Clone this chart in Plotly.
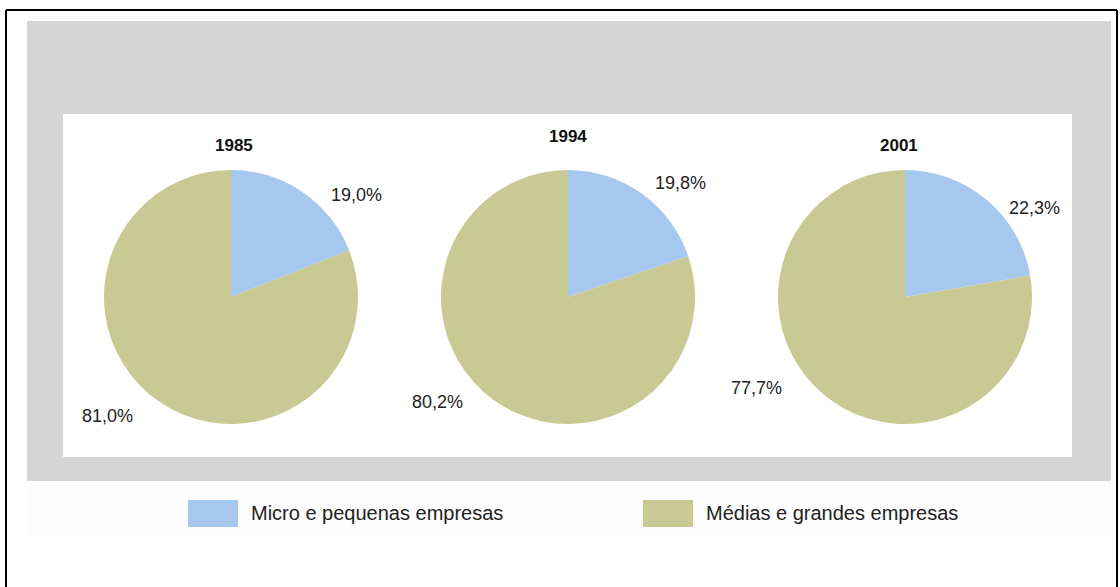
import plotly.graph_objects as go

# Participação no total, por porte de empresa
years = ["1985", "1994", "2001"]
categories = ["Micro e pequenas empresas", "Médias e grandes empresas"]
micro_pequenas = [19.0, 19.8, 22.3]
medias_grandes = [81.0, 80.2, 77.7]

colors = ["#a6c8ee", "#c9c993"]

W, H = 1120, 587
FONT = "Liberation Sans, Arial, sans-serif"


def px(x):
    return x / W


def py(y):
    return 1 - y / H


def fmt(v):
    return f"{v:.1f}".replace(".", ",") + "%"


# pie centres / radius in pixels
centres_x = [231, 568, 905]
centre_y = 297
radius = 127
# title and label placement (pixels)
title_pos = [(234, 146), (568, 137), (899, 146)]
small_pos = [(356, 195), (680, 183), (1034, 208)]
large_pos = [(107, 416), (437, 402), (756, 388)]

fig = go.Figure()
for i, yr in enumerate(years):
    cx = centres_x[i]
    fig.add_trace(go.Pie(
        labels=categories,
        values=[micro_pequenas[i], medias_grandes[i]],
        sort=False,
        direction="clockwise",
        rotation=0,
        textinfo="none",
        hoverinfo="label+percent",
        marker=dict(colors=colors, line=dict(width=0)),
        domain=dict(x=[px(cx - radius), px(cx + radius)],
                    y=[py(centre_y + radius), py(centre_y - radius)]),
        showlegend=False,
    ))

annotations = []
for i, yr in enumerate(years):
    annotations.append(dict(
        text=f"<b>{yr}</b>", x=px(title_pos[i][0]), y=py(title_pos[i][1]),
        xref="paper", yref="paper", showarrow=False,
        font=dict(family=FONT, size=17, color="#111111"),
        xanchor="center", yanchor="middle"))
    annotations.append(dict(
        text=fmt(micro_pequenas[i]), x=px(small_pos[i][0]), y=py(small_pos[i][1]),
        xref="paper", yref="paper", showarrow=False,
        font=dict(family=FONT, size=18, color="#222222"),
        xanchor="center", yanchor="middle"))
    annotations.append(dict(
        text=fmt(medias_grandes[i]), x=px(large_pos[i][0]), y=py(large_pos[i][1]),
        xref="paper", yref="paper", showarrow=False,
        font=dict(family=FONT, size=18, color="#222222"),
        xanchor="center", yanchor="middle"))

shapes = [
    # grey outer panel
    dict(type="rect", xref="paper", yref="paper", layer="below",
         x0=px(27), x1=px(1111), y0=py(481), y1=py(21),
         fillcolor="#d6d6d6", line=dict(width=0)),
    # white plotting panel
    dict(type="rect", xref="paper", yref="paper", layer="below",
         x0=px(63), x1=px(1072), y0=py(457), y1=py(114),
         fillcolor="#ffffff", line=dict(width=0)),
    # legend strip
    dict(type="rect", xref="paper", yref="paper", layer="below",
         x0=px(27), x1=px(1111), y0=py(537), y1=py(482),
         fillcolor="#fdfdfd", line=dict(width=0)),
    # frame lines
    dict(type="line", xref="paper", yref="paper", x0=px(6), x1=px(1117),
         y0=py(10), y1=py(10), line=dict(color="#000000", width=2)),
    dict(type="line", xref="paper", yref="paper", x0=px(6), x1=px(6),
         y0=py(10), y1=0, line=dict(color="#000000", width=2)),
    dict(type="line", xref="paper", yref="paper", x0=px(1117), x1=px(1117),
         y0=py(10), y1=0, line=dict(color="#000000", width=2)),
]

# legend: swatch + label for each category
legend_x = [188, 643]
for j, cat in enumerate(categories):
    x0 = legend_x[j]
    shapes.append(dict(type="rect", xref="paper", yref="paper",
                       x0=px(x0), x1=px(x0 + 50), y0=py(527), y1=py(500),
                       fillcolor=colors[j], line=dict(width=0)))
    annotations.append(dict(
        text=cat, x=px(x0 + 61), y=py(513), xref="paper", yref="paper",
        showarrow=False, xanchor="left", yanchor="middle",
        font=dict(family=FONT, size=20, color="#222222")))

fig.update_layout(
    width=W, height=H,
    margin=dict(l=0, r=0, t=0, b=0),
    paper_bgcolor="#ffffff",
    plot_bgcolor="#ffffff",
    shapes=shapes,
    annotations=annotations,
    showlegend=False,
)

fig.write_html("out.html")
